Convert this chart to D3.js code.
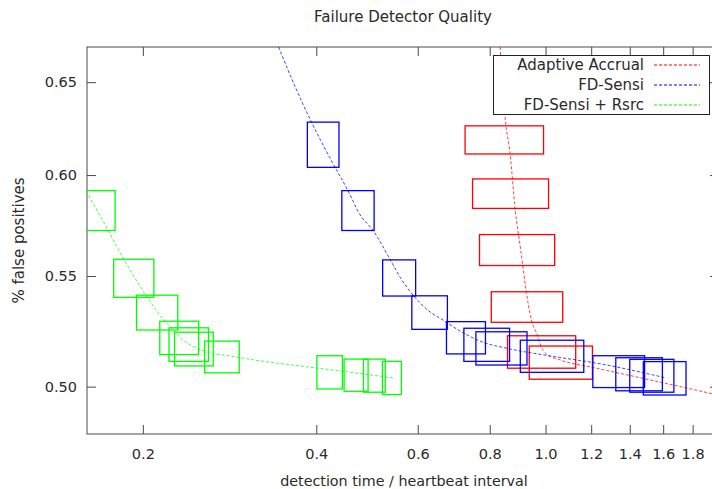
<!DOCTYPE html>
<html>
<head>
<meta charset="utf-8">
<script src="https://cdn.jsdelivr.net/npm/d3@7"></script>
<style>
  html, body { margin: 0; padding: 0; background: #fff; }
  svg { display: block; font-family: "DejaVu Sans", sans-serif; }
</style>
</head>
<body>
<svg id="chart" width="712" height="489"></svg>
<script>
// Tick values for both log axes
const xTicks = [0.2, 0.4, 0.6, 0.8, 1.0, 1.2, 1.4, 1.6, 1.8];
const yTicks = [0.50, 0.55, 0.60, 0.65];

const seriesNames = ["Adaptive Accrual", "FD-Sensi", "FD-Sensi + Rsrc"];

// Error boxes: [time low, time high, false-positive low, false-positive high]
const accrualBoxes = [
  [0.725, 0.992, 0.611, 0.626],
  [0.747, 1.012, 0.583, 0.598],
  [0.768, 1.037, 0.555, 0.570],
  [0.805, 1.071, 0.5285, 0.5426],
  [0.859, 1.128, 0.508, 0.5224],
  [0.937, 1.206, 0.5032, 0.5178]
];
const sensiBoxes = [
  [0.386, 0.438, 0.604, 0.628],
  [0.443, 0.504, 0.572, 0.592],
  [0.5215, 0.595, 0.5406, 0.5577],
  [0.586, 0.6755, 0.5253, 0.5407],
  [0.673, 0.7865, 0.5143, 0.5288],
  [0.7215, 0.866, 0.511, 0.5258],
  [0.757, 0.9285, 0.5094, 0.5242],
  [0.904, 1.165, 0.5062, 0.5204],
  [1.208, 1.4855, 0.4996, 0.5135],
  [1.324, 1.595, 0.4982, 0.5126],
  [1.40, 1.67, 0.4976, 0.5119],
  [1.478, 1.753, 0.4964, 0.5109]
];
const rsrcBoxes = [
  [0.155, 0.179, 0.572, 0.592],
  [0.178, 0.209, 0.540, 0.558],
  [0.195, 0.230, 0.525, 0.541],
  [0.214, 0.250, 0.514, 0.529],
  [0.222, 0.260, 0.511, 0.526],
  [0.227, 0.265, 0.509, 0.524],
  [0.256, 0.294, 0.506, 0.520],
  [0.401, 0.444, 0.499, 0.5135],
  [0.447, 0.492, 0.498, 0.512],
  [0.483, 0.527, 0.4976, 0.512],
  [0.521, 0.562, 0.4966, 0.511]
];

// Fitted trend curves: [time, false positives]
const accrualFit = [
  [0.834, 0.670], [0.851, 0.630], [0.868, 0.611], [0.886, 0.582], [0.904, 0.564],
  [0.933, 0.537], [0.945, 0.5295], [0.968, 0.5227], [0.983, 0.5174], [1.003, 0.5143],
  [1.061, 0.5116], [1.211, 0.5083], [1.480, 0.5035], [1.951, 0.4969]
];
const sensiFit = [
  [0.344, 0.670], [0.367, 0.648], [0.391, 0.629], [0.424, 0.608], [0.454, 0.592],
  [0.476, 0.580], [0.502, 0.572], [0.537, 0.558], [0.559, 0.5495], [0.589, 0.541],
  [0.625, 0.534], [0.664, 0.5295], [0.711, 0.5245], [0.770, 0.520], [0.868, 0.5165],
  [1.019, 0.5134], [1.246, 0.5099], [1.616, 0.5038]
];
const rsrcFit = [
  [0.1595, 0.5917], [0.1748, 0.5712], [0.1857, 0.5576], [0.2036, 0.5401], [0.2162, 0.5304],
  [0.2287, 0.5236], [0.2362, 0.5200], [0.2458, 0.5174], [0.2590, 0.5151], [0.2828, 0.5134],
  [0.3126, 0.5116], [0.3744, 0.5090], [0.4395, 0.5068], [0.5434, 0.5038]
];

const colors = ["#ff0000", "#0000ff", "#00ff00"];

const plot = { left: 87, right: 719, top: 47, bottom: 434 };
const svg = d3.select("#chart");

const x = d3.scaleLog().domain([0.16, 2.0]).range([plot.left, plot.right]);
const y = d3.scaleLog().domain([0.48, 0.67]).range([plot.bottom, plot.top]);

const axisColor = "#4a4a4a";
const textColor = "#2a2a2a";

svg.append("defs").append("clipPath").attr("id", "plotClip")
  .append("rect")
  .attr("x", plot.left).attr("y", plot.top)
  .attr("width", plot.right - plot.left).attr("height", plot.bottom - plot.top);

// Axes: inward ticks, labels on bottom and left only
function styleAxis(g) {
  g.select(".domain").remove();
  g.selectAll(".tick line").attr("stroke", axisColor);
  g.selectAll(".tick text").attr("fill", textColor).attr("font-size", 14.5);
}

svg.append("g")
  .attr("transform", `translate(0,${plot.bottom})`)
  .call(d3.axisBottom(x).tickValues(xTicks).tickFormat(d3.format(".1f")).tickSizeInner(-9).tickSizeOuter(0).tickPadding(15))
  .call(styleAxis);
svg.append("g")
  .attr("transform", `translate(0,${plot.top})`)
  .call(d3.axisTop(x).tickValues(xTicks).tickFormat("").tickSizeInner(-9).tickSizeOuter(0))
  .call(styleAxis);
svg.append("g")
  .attr("transform", `translate(${plot.left},0)`)
  .call(d3.axisLeft(y).tickValues(yTicks).tickFormat(d3.format(".2f")).tickSizeInner(-9).tickSizeOuter(0).tickPadding(10))
  .call(styleAxis);
svg.append("g")
  .attr("transform", `translate(${plot.right},0)`)
  .call(d3.axisRight(y).tickValues(yTicks).tickFormat("").tickSizeInner(-9).tickSizeOuter(0))
  .call(styleAxis);

svg.selectAll(".tick text").attr("font-family", "DejaVu Sans, sans-serif");

// Plot frame
svg.append("rect")
  .attr("x", plot.left).attr("y", plot.top)
  .attr("width", plot.right - plot.left).attr("height", plot.bottom - plot.top)
  .attr("fill", "none").attr("stroke", axisColor).attr("stroke-width", 1);

const marks = svg.append("g").attr("clip-path", "url(#plotClip)");

const line = d3.line()
  .x(d => x(d[0])).y(d => y(d[1]))
  .curve(d3.curveMonotoneX);

const allBoxes = [accrualBoxes, sensiBoxes, rsrcBoxes];
const allFits = [accrualFit, sensiFit, rsrcFit];

allBoxes.forEach((boxes, i) => {
  marks.append("g").selectAll("rect")
    .data(boxes)
    .join("rect")
    .attr("x", d => x(d[0]))
    .attr("width", d => x(d[1]) - x(d[0]))
    .attr("y", d => y(d[3]))
    .attr("height", d => y(d[2]) - y(d[3]))
    .attr("fill", "none")
    .attr("stroke", colors[i])
    .attr("stroke-width", 1.3);

  marks.append("path")
    .datum(allFits[i])
    .attr("d", line)
    .attr("fill", "none")
    .attr("stroke", colors[i])
    .attr("stroke-width", 1)
    .attr("stroke-opacity", 0.75)
    .attr("stroke-dasharray", "3,2");
});

// Legend
const legend = svg.append("g");
legend.append("rect")
  .attr("x", 493.5).attr("y", 55.5).attr("width", 216).attr("height", 59)
  .attr("fill", "#fff").attr("stroke", "#222").attr("stroke-width", 1);
seriesNames.forEach((name, i) => {
  const cy = 65 + i * 20;
  legend.append("text")
    .attr("x", 644).attr("y", cy).attr("dy", "0.35em")
    .attr("text-anchor", "end").attr("font-size", 15).attr("fill", textColor)
    .text(name);
  legend.append("line")
    .attr("x1", 654).attr("x2", 700).attr("y1", cy).attr("y2", cy)
    .attr("stroke", colors[i]).attr("stroke-width", 1)
    .attr("stroke-dasharray", "3,2");
});

// Titles
svg.append("text")
  .attr("x", (plot.left + plot.right) / 2).attr("y", 17).attr("dy", "0.35em")
  .attr("text-anchor", "middle").attr("font-size", 15).attr("fill", textColor)
  .text("Failure Detector Quality");
svg.append("text")
  .attr("x", 404).attr("y", 481).attr("dy", "0.35em")
  .attr("text-anchor", "middle").attr("font-size", 14.3).attr("fill", textColor)
  .text("detection time / heartbeat interval");
svg.append("text")
  .attr("transform", `translate(19,${(plot.top + plot.bottom) / 2}) rotate(-90)`)
  .attr("dy", "0.35em")
  .attr("text-anchor", "middle").attr("font-size", 15).attr("fill", textColor)
  .text("% false positives");
</script>
</body>
</html>
